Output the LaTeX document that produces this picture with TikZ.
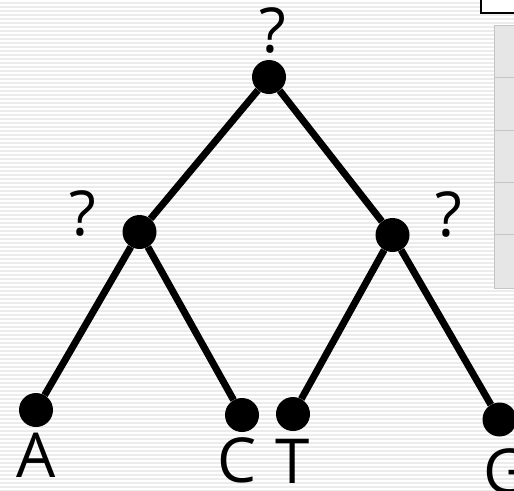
\documentclass[tikz,border=0pt]{standalone}
\usepackage{fontspec}
\setmainfont{Open Sans}
\definecolor{stripe}{HTML}{ECECEC}
\definecolor{cellfill}{HTML}{E6E6E6}
\definecolor{cellline}{HTML}{C4C4C4}
\begin{document}
\begin{tikzpicture}[x=1pt,y=-1pt,
  leaf/.style={circle,fill=black,minimum size=34pt,inner sep=0pt},
  edge/.style={line width=7pt},
  lbl/.style={inner sep=0pt,anchor=base,font=\fontsize{62}{62}\selectfont}]
\useasboundingbox (0,0) rectangle (514,490);
\fill[white] (0,0) rectangle (514,490);
\foreach \y in {0,4,...,488} \fill[stripe] (0,\y+2) rectangle (514,\y+4);
% right side partial widgets
\draw[line width=1.5pt,fill=white] (481,-2) rectangle (520,13);
\draw[cellline,fill=cellfill,line width=1pt] (494,25) rectangle (520,288);
\foreach \y in {77.5,130,182.5,234.5} \draw[cellline,line width=1pt] (494,\y) -- (520,\y);
% tree
\node[leaf] (root) at (269,77) {};
\node[leaf] (l) at (139.5,232) {};
\node[leaf] (r) at (392.5,235) {};
\node[leaf] (a) at (36,410) {};
\node[leaf] (c) at (242,415) {};
\node[leaf] (t) at (293,414) {};
\node[leaf] (g) at (499.5,419.5) {};
\draw[edge] (root) -- (l);
\draw[edge] (root) -- (r);
\draw[edge] (l) -- (a);
\draw[edge] (l) -- (c);
\draw[edge] (r) -- (t);
\draw[edge] (r) -- (g);
\node[lbl] (qroot) at (273,52) {?};
\node[lbl] (ql) at (83,235) {?};
\node[lbl] (qr) at (449,236) {?};
\node[lbl] (la) at (36,477) {A};
\node[lbl] (lc) at (237,482) {C};
\node[lbl] (lt) at (292.5,483) {T};
\node[lbl,anchor=base west] (lg) at (483,493) {G};
\end{tikzpicture}
\end{document}
